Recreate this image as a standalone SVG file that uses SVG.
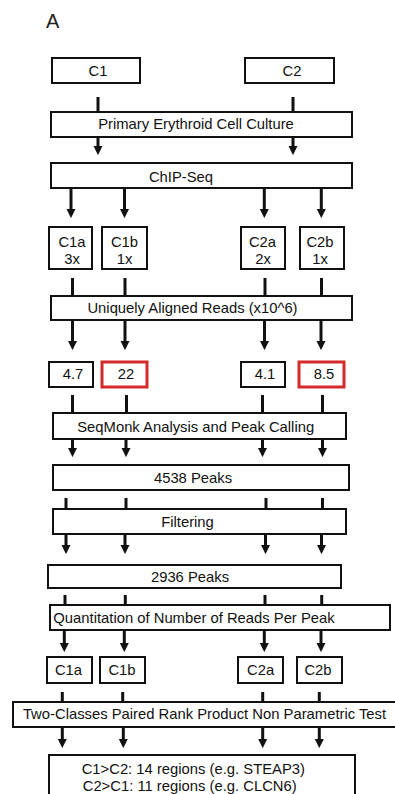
<svg xmlns="http://www.w3.org/2000/svg" width="395" height="794" viewBox="0 0 395 794">
<style>
  .box{fill:#fff;stroke:#111;stroke-width:2}
  .red{fill:#fff;stroke:#d42a2a;stroke-width:3}
  text{font-family:"Liberation Sans",Arial,sans-serif;font-size:14.8px;fill:#111;text-anchor:middle}
  .ln{stroke:#111;stroke-width:3;fill:none}
  .ar{stroke:#111;stroke-width:3;fill:none;marker-end:url(#ah)}
</style>
<defs>
  <marker id="ah" viewBox="0 0 10 10" refX="1" refY="5" markerWidth="9" markerHeight="10" markerUnits="userSpaceOnUse" orient="auto">
    <path d="M0,0 L10,5 L0,10 z" fill="#111"/>
  </marker>
</defs>
<rect width="395" height="794" fill="#fff"/>
<text x="46" y="27.5" style="font-size:20px;text-anchor:start;fill:#222">A</text>

<g id="connectors">
  <line class="ln" x1="98" y1="97" x2="98" y2="112"/>
  <line class="ln" x1="293" y1="97" x2="293" y2="112"/>
  <line class="ar" x1="98" y1="137" x2="98" y2="147"/>
  <line class="ar" x1="293" y1="137" x2="293" y2="147"/>

  <line class="ar" x1="71" y1="188" x2="71" y2="210"/>
  <line class="ar" x1="124.5" y1="188" x2="124.5" y2="210"/>
  <line class="ar" x1="264.3" y1="188" x2="264.3" y2="210"/>
  <line class="ar" x1="321.3" y1="188" x2="321.3" y2="210"/>

  <line class="ln" x1="72.5" y1="278" x2="72.5" y2="296"/>
  <line class="ln" x1="125" y1="278" x2="125" y2="296"/>
  <line class="ln" x1="265" y1="278" x2="265" y2="296"/>
  <line class="ln" x1="321.5" y1="278" x2="321.5" y2="296"/>

  <line class="ar" x1="72.5" y1="320" x2="72.5" y2="342"/>
  <line class="ar" x1="125" y1="320" x2="125" y2="342"/>
  <line class="ar" x1="264.5" y1="320" x2="264.5" y2="342"/>
  <line class="ar" x1="321" y1="320" x2="321" y2="342"/>

  <line class="ln" x1="72.5" y1="395" x2="72.5" y2="413"/>
  <line class="ln" x1="126.5" y1="395" x2="126.5" y2="413"/>
  <line class="ln" x1="262.5" y1="395" x2="262.5" y2="413"/>
  <line class="ln" x1="322.5" y1="395" x2="322.5" y2="413"/>

  <line class="ar" x1="72.5" y1="439" x2="72.5" y2="449"/>
  <line class="ar" x1="126" y1="439" x2="126" y2="449"/>
  <line class="ar" x1="262.5" y1="439" x2="262.5" y2="449"/>
  <line class="ar" x1="322.5" y1="439" x2="322.5" y2="449"/>

  <line class="ln" x1="66" y1="498" x2="66" y2="509"/>
  <line class="ln" x1="126" y1="498" x2="126" y2="509"/>
  <line class="ln" x1="266" y1="498" x2="266" y2="509"/>
  <line class="ln" x1="322.5" y1="498" x2="322.5" y2="509"/>

  <line class="ar" x1="66" y1="534" x2="66" y2="546"/>
  <line class="ar" x1="125" y1="534" x2="125" y2="546"/>
  <line class="ar" x1="265.5" y1="534" x2="265.5" y2="546"/>
  <line class="ar" x1="321.5" y1="534" x2="321.5" y2="546"/>

  <line class="ln" x1="65" y1="595" x2="65" y2="605"/>
  <line class="ln" x1="125.3" y1="595" x2="125.3" y2="605"/>
  <line class="ln" x1="265" y1="595" x2="265" y2="605"/>
  <line class="ln" x1="321.7" y1="595" x2="321.7" y2="605"/>

  <line class="ar" x1="64.3" y1="630" x2="64.3" y2="644"/>
  <line class="ar" x1="124.3" y1="630" x2="124.3" y2="644"/>
  <line class="ar" x1="264.3" y1="630" x2="264.3" y2="644"/>
  <line class="ar" x1="321" y1="630" x2="321" y2="644"/>

  <line class="ln" x1="62.3" y1="692" x2="62.3" y2="702"/>
  <line class="ln" x1="122.7" y1="692" x2="122.7" y2="702"/>
  <line class="ln" x1="262.7" y1="692" x2="262.7" y2="702"/>
  <line class="ln" x1="319.3" y1="692" x2="319.3" y2="702"/>

  <line class="ar" x1="62.3" y1="727" x2="62.3" y2="740"/>
  <line class="ar" x1="123.3" y1="727" x2="123.3" y2="740"/>
  <line class="ar" x1="262.7" y1="727" x2="262.7" y2="740"/>
  <line class="ar" x1="319.3" y1="727" x2="319.3" y2="740"/>
</g>

<g id="c1"><rect class="box" x="52" y="58" width="88" height="25"/><text x="98" y="76">C1</text></g>
<g id="c2"><rect class="box" x="245" y="58" width="89" height="25"/><text x="292" y="76">C2</text></g>
<g id="primary"><rect class="box" x="51" y="112" width="301" height="25"/><text x="196" y="128.5">Primary Erythroid Cell Culture</text></g>
<g id="chipseq"><rect class="box" x="51" y="163" width="301" height="25"/><text x="181" y="181.5">ChIP-Seq</text></g>

<g id="c1a"><rect class="box" x="49" y="227" width="43" height="42"/><text x="72" y="246.7">C1a</text><text x="72" y="264">3x</text></g>
<g id="c1b"><rect class="box" x="102" y="227" width="45" height="42"/><text x="124.5" y="246.7">C1b</text><text x="124.5" y="264">1x</text></g>
<g id="c2a"><rect class="box" x="241" y="227" width="44" height="42"/><text x="262.5" y="246.7">C2a</text><text x="263" y="264">2x</text></g>
<g id="c2b"><rect class="box" x="300" y="227" width="44" height="42"/><text x="320" y="246.7">C2b</text><text x="320" y="264">1x</text></g>

<g id="uniquely"><rect class="box" x="51" y="296" width="301" height="24"/><text x="192.5" y="313.3">Uniquely Aligned Reads (x10^6)</text></g>

<g id="n47"><rect class="box" x="49" y="362" width="44" height="25"/><text x="73" y="379">4.7</text></g>
<g id="n22"><rect class="red" x="102" y="362" width="45" height="25"/><text x="126" y="379">22</text></g>
<g id="n41"><rect class="box" x="241" y="362" width="44" height="25"/><text x="265" y="379">4.1</text></g>
<g id="n85"><rect class="red" x="299" y="362" width="45" height="25"/><text x="324" y="379">8.5</text></g>

<g id="seqmonk"><rect class="box" x="53" y="413" width="293" height="26"/><text x="195.7" y="431.5">SeqMonk Analysis and Peak Calling</text></g>
<g id="peaks4538"><rect class="box" x="53" y="465" width="296" height="25"/><text x="193" y="482.7">4538 Peaks</text></g>
<g id="filtering"><rect class="box" x="53" y="509" width="293" height="25"/><text x="187.5" y="526.5">Filtering</text></g>
<g id="peaks2936"><rect class="box" x="48" y="565" width="293" height="23"/><text x="190" y="581.5">2936 Peaks</text></g>
<g id="quant"><rect class="box" x="50" y="605" width="340" height="25"/><text x="194" y="623">Quantitation of Number of Reads Per Peak</text></g>

<g id="c1a2"><rect class="box" x="47" y="657" width="45" height="26"/><text x="68.5" y="675">C1a</text></g>
<g id="c1b2"><rect class="box" x="100" y="657" width="45" height="26"/><text x="122" y="675">C1b</text></g>
<g id="c2a2"><rect class="box" x="238" y="657" width="45" height="26"/><text x="260.7" y="675">C2a</text></g>
<g id="c2b2"><rect class="box" x="297" y="657" width="45" height="26"/><text x="318" y="675">C2b</text></g>

<g id="twoclasses"><rect class="box" x="13" y="702" width="386" height="25"/><text x="204.5" y="719">Two-Classes Paired Rank Product Non Parametric Test</text></g>
<g id="result"><rect class="box" x="49" y="755" width="306" height="50"/><text x="193.3" y="773.5">C1&gt;C2: 14 regions (e.g. STEAP3)</text><text x="189.7" y="790.5">C2&gt;C1: 11 regions (e.g. CLCN6)</text></g>
</svg>
